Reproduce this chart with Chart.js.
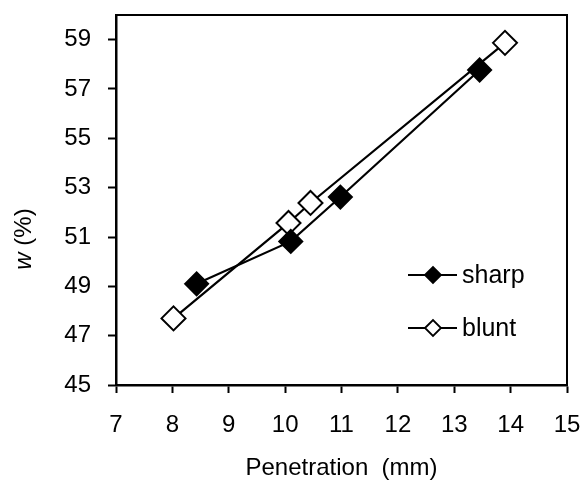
<!DOCTYPE html>
<html lang="en">
<head>
    <meta charset="UTF-8">
    <title>w vs Penetration</title>
    <script src="https://cdn.jsdelivr.net/npm/chart.js"></script>
    <style>
        html, body { margin: 0; padding: 0; background: #fff; }
        #wrap { width: 583px; height: 485px; }
    </style>
</head>
<body>
    <div id="wrap"><canvas id="chart" width="583" height="485"></canvas></div>

    <script>
        // data
        const sharpX = [8.43, 10.1, 10.98, 13.45];
        const sharpY = [49.1, 50.82, 52.62, 57.77];
        const bluntX = [8.02, 10.06, 10.45, 13.9];
        const bluntY = [47.7, 51.57, 52.38, 58.87];
        const xTicks = [7, 8, 9, 10, 11, 12, 13, 14, 15];
        const yTicks = [45, 47, 49, 51, 53, 55, 57, 59];
        const seriesNames = ['sharp', 'blunt'];

        const FONT = 'Liberation Sans, Arial, sans-serif';

        function toPoints(xs, ys) {
            return xs.map((x, i) => ({ x: x, y: ys[i] }));
        }

        // box round the plot area + y title + legend inside the plot
        const extras = {
            id: 'extras',
            afterDraw(chart) {
                const ctx = chart.ctx;
                const a = chart.chartArea;
                ctx.save();
                ctx.strokeStyle = '#000';
                ctx.lineWidth = 2;
                ctx.strokeRect(a.left, a.top, a.right - a.left, a.bottom - a.top);

                // y title: italic w then (%)
                ctx.translate(24, 239);
                ctx.rotate(-Math.PI / 2);
                ctx.fillStyle = '#000';
                ctx.textBaseline = 'middle';
                ctx.textAlign = 'left';
                ctx.font = 'italic 24px ' + FONT;
                const w1 = ctx.measureText('w').width;
                ctx.font = '24px ' + FONT;
                const w2 = ctx.measureText(' (%)').width;
                const start = -(w1 + w2) / 2;
                ctx.font = 'italic 24px ' + FONT;
                ctx.fillText('w', start, 0);
                ctx.font = '24px ' + FONT;
                ctx.fillText(' (%)', start + w1, 0);
                ctx.restore();

                // legend
                const rows = [275, 328];
                chart.data.datasets.forEach((ds, i) => {
                    const y = rows[i];
                    ctx.save();
                    ctx.strokeStyle = '#000';
                    ctx.lineWidth = 2.2;
                    ctx.beginPath();
                    ctx.moveTo(408, y);
                    ctx.lineTo(457, y);
                    ctx.stroke();
                    ctx.beginPath();
                    const r = 8;
                    ctx.moveTo(433 - r, y);
                    ctx.lineTo(433, y - r);
                    ctx.lineTo(433 + r, y);
                    ctx.lineTo(433, y + r);
                    ctx.closePath();
                    ctx.fillStyle = ds.pointBackgroundColor;
                    ctx.fill();
                    ctx.lineWidth = 1.8;
                    ctx.stroke();
                    ctx.fillStyle = '#000';
                    ctx.font = '25px ' + FONT;
                    ctx.textBaseline = 'middle';
                    ctx.textAlign = 'left';
                    ctx.fillText(ds.label, 462, y + 1);
                    ctx.restore();
                });
            }
        };

        new Chart(document.getElementById('chart'), {
            type: 'scatter',
            data: {
                datasets: [{
                    label: seriesNames[0],
                    data: toPoints(sharpX, sharpY),
                    showLine: true,
                    borderColor: '#000',
                    borderWidth: 2.2,
                    pointStyle: 'rectRot',
                    pointRadius: 11.5,
                    pointBorderWidth: 2,
                    pointBorderColor: '#000',
                    pointBackgroundColor: '#000',
                    fill: false
                }, {
                    label: seriesNames[1],
                    data: toPoints(bluntX, bluntY),
                    showLine: true,
                    borderColor: '#000',
                    borderWidth: 2.2,
                    pointStyle: 'rectRot',
                    pointRadius: 12,
                    pointBorderWidth: 2,
                    pointBorderColor: '#000',
                    pointBackgroundColor: '#fff',
                    fill: false
                }]
            },
            options: {
                responsive: false,
                animation: false,
                layout: { padding: { top: 15, right: 16, left: 0, bottom: 0 } },
                plugins: {
                    legend: { display: false },
                    tooltip: { enabled: false }
                },
                scales: {
                    x: {
                        type: 'linear',
                        min: 7,
                        max: 15,
                        afterBuildTicks: s => { s.ticks = xTicks.map(v => ({ value: v })); },
                        afterFit: s => { s.height = 100; s.paddingLeft = 0; s.paddingRight = 0; },
                        border: { display: true, color: '#000', width: 2.5 },
                        grid: { drawOnChartArea: false, drawTicks: true, tickLength: 8, tickWidth: 2, tickColor: '#000' },
                        ticks: { color: '#000', padding: 18, font: { family: FONT, size: 24 }, maxRotation: 0 },
                        title: {
                            display: true,
                            text: 'Penetration  (mm)',
                            color: '#000',
                            font: { family: FONT, size: 24 },
                            padding: { top: 0, bottom: 2 }
                        }
                    },
                    y: {
                        type: 'linear',
                        min: 45,
                        max: 60,
                        afterBuildTicks: s => { s.ticks = yTicks.map(v => ({ value: v })); },
                        afterFit: s => { s.width = 116; s.paddingTop = 0; s.paddingBottom = 0; },
                        border: { display: true, color: '#000', width: 2.5 },
                        grid: { drawOnChartArea: false, drawTicks: true, tickLength: 8, tickWidth: 2, tickColor: '#000' },
                        ticks: { color: '#000', padding: 17, font: { family: FONT, size: 24 } }
                    }
                }
            },
            plugins: [extras]
        });
    </script>
</body>
</html>
